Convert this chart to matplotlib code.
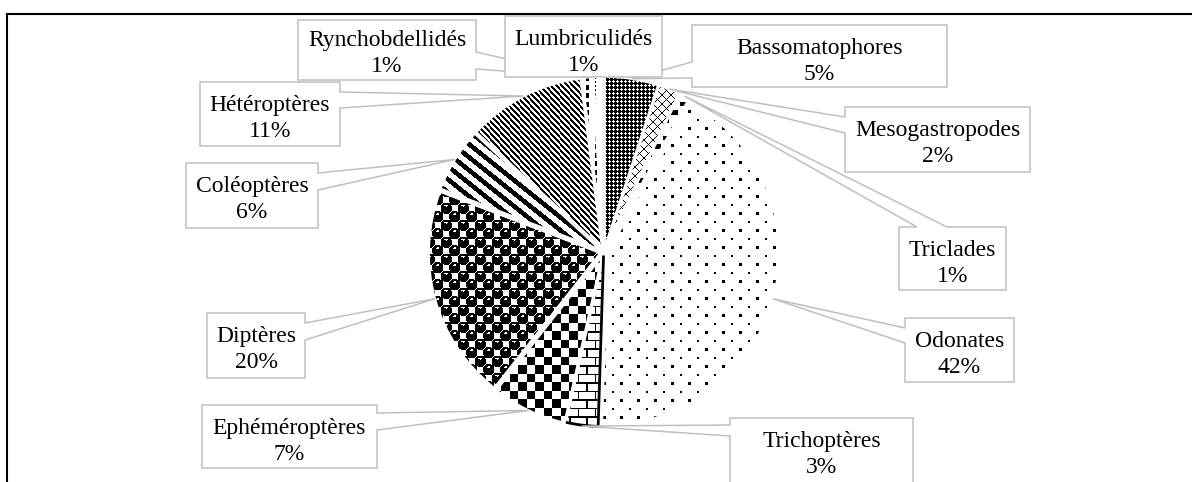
import numpy as np
import matplotlib
matplotlib.use("Agg")
import matplotlib.pyplot as plt
from matplotlib.patches import Polygon, Wedge

# Relative abundance of macroinvertebrate taxa (%)
taxa = ["Bassomatophores", "Mesogastropodes", "Triclades", "Odonates",
        "Trichoptères", "Ephéméroptères", "Diptères", "Coléoptères",
        "Hétéroptères", "Rynchobdellidés", "Lumbriculidés"]
shares = [5, 2, 1, 42, 3, 7, 20, 6, 11, 1, 1]
pct_labels = [f"{v}%" for v in shares]

W, H = 1192, 482
fig = plt.figure(figsize=(W / 100, H / 100), dpi=100)
ax = fig.add_axes([0, 0, 1, 1])

# pixel-like coordinate system, y pointing down
wedges, _ = ax.pie(shares, center=(604, 252), radius=172, startangle=270,
                   counterclock=True, explode=[3.5] * len(shares),
                   wedgeprops=dict(facecolor="white", edgecolor="none"))
ax.set_xlim(0, W)
ax.set_ylim(H, 0)
ax.set_aspect("auto")
ax.axis("off")

# ---- bitmap fill patterns -------------------------------------------------
yy, xx = np.mgrid[0:H, 0:W].astype(float) + 0.5
xi, yi = xx.astype(int), yy.astype(int)
s = 17 / 8
cx = np.floor(xx / s).astype(int) % 8
cy = np.floor(yy / s).astype(int) % 8


def p_lattice():
    i, j = xi % 4, yi % 4
    white = ((i == 1) & (j == 1)) | ((i == 0) & (j == 1)) | ((i == 2) & (j == 1)) \
        | ((i == 1) & (j == 0)) | ((i == 1) & (j == 2))
    return ~white


def p_diamond():
    return ((xi + yi) % 9 == 0) | ((xi - yi) % 9 == 0)


def p_confetti():
    return ((cx <= 2) & (cy <= 1)) | ((cx >= 4) & (cx <= 6) & (cy >= 4) & (cy <= 5))


def p_dots():
    return ((cx == 0) & (cy == 0)) | ((cx == 4) & (cy == 4))


def p_brick():
    h = 8.5
    row = np.floor(yy / h).astype(int)
    return ((yy % h) < 1.4) | (((xx + (row % 2) * 8.5) % 17) < 1.4)


def p_checker():
    return (np.floor(xx / 8.5) + np.floor(yy / 8.5)) % 2 == 0


def p_sphere():
    c = 8.5
    i0, j0 = np.floor(xx / c), np.floor(yy / c)
    ink = np.zeros_like(xx, dtype=bool)
    shine = np.zeros_like(xx, dtype=bool)
    for di, dj in [(0, 0), (1, 0), (-1, 0), (0, 1), (0, -1)]:
        i, j = i0 + di, j0 + dj
        on = (i + j) % 2 == 0
        dx = xx - (i + 0.5) * c
        dy = yy - (j + 0.5) * c
        ball = on & ((np.abs(dx) ** 2.5 + np.abs(dy) ** 2.5) <= 5.6 ** 2.5)
        ink |= ball
        shine |= ball & ((dx / 1.8) ** 2 + ((dy + 2.6) / 0.9) ** 2 <= 1)
    return ink & ~shine


def p_wide_diag():
    u = yy - 0.8 * xx
    return (u % 13) < 6


def p_narrow_diag():
    u = yy - 1.1 * xx
    return (u % 6) < 3


def p_dash_vert():
    return ((xx % 8.5) < 2.2) & ((yy % 8.5) < 5)


def p_dot_vert():
    return ((xx % 8.5) < 1.3) & ((yy % 4.25) < 2.2)


patterns = [p_lattice, p_diamond, p_confetti, p_dots, p_brick, p_checker,
            p_sphere, p_wide_diag, p_narrow_diag, p_dash_vert, p_dot_vert]

for wedge, pat in zip(wedges, patterns):
    rgba = np.ones((H, W, 4))
    rgba[pat(), :3] = 0.0
    im = ax.imshow(rgba, extent=(0, W, H, 0), origin="upper",
                   interpolation="nearest", aspect="auto", zorder=2)
    im.set_clip_path(wedge)
    # thin white border separating the slices
    ax.add_patch(Wedge(wedge.center, wedge.r, wedge.theta1, wedge.theta2,
                       fill=False, edgecolor="white", lw=1.8, zorder=3))

# dark outline on the brick slice (outer arc and edge facing Odonates)
wb = wedges[taxa.index("Trichoptères")]
th = np.linspace(np.deg2rad(wb.theta2), np.deg2rad(wb.theta1), 30)
arc_x = list(wb.center[0] + (wb.r - 1) * np.cos(th)) + [wb.center[0]]
arc_y = list(wb.center[1] + (wb.r - 1) * np.sin(th)) + [wb.center[1]]
ax.plot(arc_x, arc_y, color="black", lw=2.0, zorder=4, solid_capstyle="butt")

ax.set_xlim(0, W)
ax.set_ylim(H, 0)

# ---- callout labels -------------------------------------------------------
# box (x0, y0, x1, y1), side carrying the pointer, pointer base span,
# top reference for the two text lines
callouts = {
    "Rynchobdellidés": ((298, 20, 476, 80), "right", 52, 69, 17),
    "Bassomatophores": ((692, 25, 947, 87), "left", 62, 78, 25),
    "Lumbriculidés": ((505, 16, 662, 77), "bottom", 590, 604, 16),
    "Mesogastropodes": ((845, 107, 1030, 172), "left", 117, 133, 107),
    "Triclades": ((899, 227, 1006, 290), "top", 917, 947, 227),
    "Odonates": ((905, 318, 1014, 382), "left", 328, 343, 318),
    "Trichoptères": ((730, 418, 913, 495), "left", 425, 436, 418),
    "Ephéméroptères": ((202, 405, 377, 468), "right", 413, 430, 405),
    "Diptères": ((207, 313, 305, 378), "right", 323, 340, 313),
    "Coléoptères": ((186, 163, 318, 228), "right", 173, 190, 163),
    "Hétéroptères": ((200, 82, 340, 146), "right", 92, 108, 82),
}
draw_order = ["Rynchobdellidés", "Bassomatophores", "Lumbriculidés",
              "Mesogastropodes", "Triclades", "Odonates", "Trichoptères",
              "Ephéméroptères", "Diptères", "Coléoptères", "Hétéroptères"]

font = dict(family="Liberation Serif", fontsize=17, color="black")

for k, name in enumerate(draw_order):
    idx = taxa.index(name)
    w = wedges[idx]
    tm = np.deg2rad(0.5 * (w.theta1 + w.theta2))
    tip = (w.center[0] + w.r * np.cos(tm), w.center[1] + w.r * np.sin(tm))
    (x0, y0, x1, y1), side, b0, b1, ty = callouts[name]
    if side == "right":
        pts = [(x0, y0), (x1, y0), (x1, b0), tip, (x1, b1), (x1, y1), (x0, y1)]
    elif side == "left":
        pts = [(x0, y0), (x1, y0), (x1, y1), (x0, y1), (x0, b1), tip, (x0, b0)]
    elif side == "top":
        pts = [(x0, y0), (b0, y0), tip, (b1, y0), (x1, y0), (x1, y1), (x0, y1)]
    else:
        pts = [(x0, y0), (x1, y0), (x1, y1), (b1, y1), tip, (b0, y1), (x0, y1)]
    z = 5 + k
    ax.add_patch(Polygon(pts, closed=True, facecolor="white",
                         edgecolor="#bfbfbf", lw=1.1, joinstyle="miter",
                         zorder=z))
    xc = 0.5 * (x0 + x1)
    ax.text(xc, ty + 29, name, ha="center", va="baseline", zorder=z, **font)
    ax.text(xc, ty + 55, pct_labels[idx], ha="center", va="baseline",
            zorder=z, **font)

# chart frame (top and left edges)
ax.plot([7, W], [13.5, 13.5], color="black", lw=1.5, zorder=20,
        solid_capstyle="projecting")
ax.plot([7, 7], [13.5, H], color="black", lw=1.5, zorder=20,
        solid_capstyle="projecting")

fig.savefig("out.png", dpi=100, facecolor="white")
